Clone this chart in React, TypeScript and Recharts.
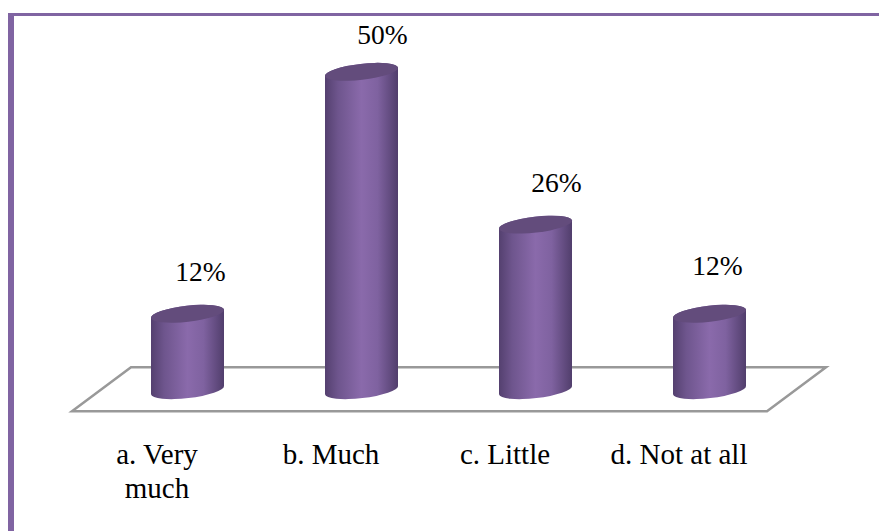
import { Bar, BarChart, LabelList, ReferenceArea, XAxis, YAxis } from "recharts";

const categories = ["a. Very much", "b. Much", "c. Little", "d. Not at all"];
const shares = [12, 50, 26, 12];
// one answer wraps in the reference, the others stay on one line
const tickLines = [["a. Very", "much"], ["b. Much"], ["c. Little"], ["d. Not at all"]];
const labelNudges = [
  [13, -17],
  [21, -12],
  [21, -17],
  [8, -23],
];

const rows = categories.map((name, i) => ({ name, share: shares[i] }));

const FONT = '"Liberation Serif", "Times New Roman", serif';
const TILT = 6.5;
const RY = 8;

function Cylinder({ x, y, width, height }: any) {
  const rad = (TILT * Math.PI) / 180;
  const rx = width / 2 / Math.cos(rad);
  const rise = rx * Math.sin(rad);
  const right = x + width;
  const bottom = y + height;
  const body = [
    `M${x},${y + rise}`,
    `L${x},${bottom + rise}`,
    `A${rx} ${RY} ${-TILT} 0 0 ${right},${bottom - rise}`,
    `L${right},${y - rise}`,
    `A${rx} ${RY} ${-TILT} 0 0 ${x},${y + rise}`,
    "Z",
  ].join(" ");
  return (
    <g>
      <path d={body} fill="url(#cylinderBody)" />
      <ellipse
        cx={x + width / 2}
        cy={y}
        rx={rx}
        ry={RY}
        fill="#634c7c"
        transform={`rotate(${-TILT} ${x + width / 2} ${y})`}
      />
    </g>
  );
}

function Floor({ x, y, width, height }: any) {
  const points = [
    [x - 28, y + height],
    [x + 31, y],
    [x + width + 30, y],
    [x + width - 29, y + height],
  ];
  return <polygon points={points.join(" ")} fill="#fff" stroke="#999" strokeWidth={2.5} />;
}

function CategoryTick({ x, index }: any) {
  return (
    <text x={x - 30} textAnchor="middle" fontFamily={FONT} fontSize={29} fill="#000">
      {tickLines[index].map((line, i) => (
        <tspan key={line} x={x - 30} y={464 + i * 34}>
          {line}
        </tspan>
      ))}
    </text>
  );
}

function ShareLabel({ x, y, width, index, value }: any) {
  const [dx, dy] = labelNudges[index];
  return (
    <text
      x={x + width / 2 + dx}
      y={y - 16 + dy}
      textAnchor="middle"
      fontFamily={FONT}
      fontSize={27.5}
      fill="#000"
    >
      {value}%
    </text>
  );
}

export default function App() {
  return (
    <div style={{ position: "absolute", left: 0, top: 0, width: 879, height: 531, background: "#fff" }}>
      <div
        style={{
          position: "absolute",
          left: 8,
          top: 13,
          right: 0,
          bottom: 0,
          borderLeft: "6px solid #8064a2",
          borderTop: "3px solid #8064a2",
        }}
      />
      <BarChart
        width={879}
        height={531}
        data={rows}
        margin={{ top: 40, right: 83, bottom: 49, left: 100 }}
        style={{ position: "absolute", left: 0, top: 0 }}
      >
        <defs>
          <linearGradient id="cylinderBody" x1="0" y1="0" x2="1" y2="0">
            <stop offset="0%" stopColor="#54406f" />
            <stop offset="18%" stopColor="#6e558d" />
            <stop offset="50%" stopColor="#8a6aab" />
            <stop offset="72%" stopColor="#7f62a0" />
            <stop offset="100%" stopColor="#513e6c" />
          </linearGradient>
        </defs>
        <XAxis dataKey="name" axisLine={false} tickLine={false} height={60} interval={0} tick={<CategoryTick />} />
        <YAxis hide domain={[-5, 55]} allowDataOverflow />
        <ReferenceArea y1={-3.3} y2={3.6} ifOverflow="visible" shape={<Floor />} />
        <Bar dataKey="share" barSize={73} isAnimationActive={false} shape={<Cylinder />}>
          <LabelList dataKey="share" content={<ShareLabel />} />
        </Bar>
      </BarChart>
    </div>
  );
}
